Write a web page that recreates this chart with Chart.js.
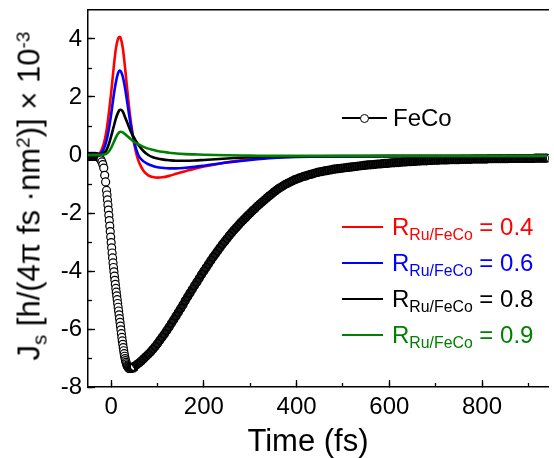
<!DOCTYPE html>
<html>
<head>
<meta charset="utf-8">
<script src="https://cdn.jsdelivr.net/npm/chart.js@4.4.1/dist/chart.umd.min.js"></script>
<style>
  body { margin: 0; background: #fff; }
  #wrap { position: relative; width: 554px; height: 458px; overflow: hidden;
          font-family: "Liberation Sans", Arial, sans-serif; color: #000; }
  #wrap canvas { position: absolute; left: 0; top: 0; }
  .txt { position: absolute; white-space: nowrap; }
  .sub { position: relative; top: 0.32em; font-size: 0.66em; }
  .sup { position: relative; top: -0.5em; font-size: 0.62em; }
  .key { position: absolute; height: 2.5px; width: 41px; left: 342px; }
  .rtxt { font-size: 24px; line-height: 24px; left: 392px; }
</style>
</head>
<body>
<div id="wrap">
  <canvas id="graf" width="554" height="458"></canvas>

  <div class="txt" style="left:31px; top:196px; font-size:31px; line-height:31px; transform: translate(-50%,-50%) rotate(-90deg);">J<span class="sub">s</span> [h/(4π fs ·nm<span class="sup">2</span>)] × 10<span class="sup">-3</span></div>
  <div class="txt" style="left:308px; top:425px; font-size:31px; line-height:31px; transform: translateX(-50%);">Time (fs)</div>

  <div class="key" style="top:117px; width:45px; height:2px; background:#000;"></div>
  <div style="position:absolute; left:360px; top:113.5px; width:7px; height:7px; border:1px solid #000; border-radius:50%; background:#fff;"></div>
  <div class="txt rtxt" style="top:106px; left:393px;">FeCo</div>

  <div class="key" style="top:225.5px; background:#ff0000;"></div>
  <div class="txt rtxt" style="top:215px; color:#ff0000;">R<span class="sub">Ru/FeCo</span> = 0.4</div>
  <div class="key" style="top:261.5px; background:#0000ff;"></div>
  <div class="txt rtxt" style="top:251px; color:#0000ff;">R<span class="sub">Ru/FeCo</span> = 0.6</div>
  <div class="key" style="top:297.5px; background:#000000;"></div>
  <div class="txt rtxt" style="top:287px; color:#000000;">R<span class="sub">Ru/FeCo</span> = 0.8</div>
  <div class="key" style="top:333.5px; background:#008000;"></div>
  <div class="txt rtxt" style="top:323px; color:#008000;">R<span class="sub">Ru/FeCo</span> = 0.9</div>
</div>

<script>
// marcas de los ejes
const ticksX = [0, 200, 400, 600, 800];
const ticksXMenor = [0, 100, 200, 300, 400, 500, 600, 700, 800, 900];
const ticksY = [-8, -6, -4, -2, 0, 2, 4];
const ticksYMenor = [-8, -7, -6, -5, -4, -3, -2, -1, 0, 1, 2, 3, 4];

// tiempos comunes de las curvas R (fs)
const tiempoR = [-50, -30, -25, -20, -15, -10, -5, 0, 5, 10, 15, 18, 20, 25, 30, 35, 40, 45, 50, 55,
  60, 70, 80, 90, 100, 110, 125, 140, 160, 180, 200, 250, 300, 350, 400, 500, 600, 700, 800, 940];

const r04 = [0, 0.01, 0.05, 0.2, 0.45, 0.85, 1.45, 2.15, 2.95, 3.65, 4.02, 4.08, 4.05, 3.7, 3.0, 2.2, 1.45, 0.85, 0.35, 0.0,
  -0.25, -0.55, -0.7, -0.76, -0.78, -0.77, -0.72, -0.65, -0.56, -0.47, -0.4, -0.25, -0.15, -0.08, -0.06, -0.05, -0.04, -0.04, -0.04, -0.04];

const r06 = [0, 0, 0.03, 0.1, 0.25, 0.5, 0.9, 1.4, 2.0, 2.5, 2.83, 2.91, 2.9, 2.7, 2.3, 1.78, 1.25, 0.8, 0.45, 0.15,
  -0.05, -0.22, -0.32, -0.38, -0.42, -0.44, -0.46, -0.46, -0.44, -0.41, -0.37, -0.26, -0.17, -0.1, -0.07, -0.05, -0.04, -0.04, -0.04, -0.04];

const r08 = [0, 0, 0.01, 0.03, 0.08, 0.18, 0.38, 0.65, 0.95, 1.25, 1.47, 1.55, 1.56, 1.5, 1.3, 1.1, 0.9, 0.72, 0.58, 0.44,
  0.32, 0.13, 0.0, -0.08, -0.12, -0.15, -0.18, -0.2, -0.2, -0.19, -0.17, -0.12, -0.08, -0.06, -0.05, -0.04, -0.04, -0.04, -0.04, -0.04];

const r09 = [0, 0, 0, 0.01, 0.02, 0.05, 0.12, 0.25, 0.42, 0.6, 0.74, 0.79, 0.8, 0.78, 0.72, 0.65, 0.58, 0.51, 0.45, 0.4,
  0.36, 0.28, 0.22, 0.18, 0.14, 0.11, 0.08, 0.05, 0.03, 0.02, 0.01, -0.01, -0.02, -0.03, -0.03, -0.03, -0.03, -0.03, -0.03, -0.03];

// FeCo (simbolos)
const tiempoFeCo = [
  -50, -45, -40, -35, -30, -27, -24, -22, -20, -18, -16, -14, -12, -10,
  -9, -8, -7, -6, -5, -4, -3, -2, -1, 0,
  1, 2, 3, 4, 5, 6, 7, 8, 9, 10,
  11, 12, 13, 14, 15, 16, 17, 18, 19, 20,
  21, 22, 23, 24, 25, 26, 27, 28, 29, 30,
  31, 32, 33, 34, 35, 36, 37, 38, 39, 40,
  41, 42, 43, 44, 45, 46, 47, 48, 49, 50,
  55, 60, 65, 70, 75, 80, 85, 90, 95, 100,
  105, 110, 115, 120, 125, 130, 135, 140, 145, 150,
  155, 160, 165, 170, 175, 180, 185, 190, 195, 200,
  205, 210, 215, 220, 225, 230, 235, 240, 245, 250,
  255, 260, 265, 270, 275, 280, 285, 290, 295, 300,
  305, 310, 315, 320, 325, 330, 335, 340, 345, 350,
  355, 360, 365, 370, 375, 380, 385, 390, 395, 400,
  405, 410, 415, 420, 425, 430, 435, 440, 445, 450,
  455, 460, 465, 470, 475, 480, 485, 490, 495, 500,
  505, 510, 515, 520, 525, 530, 535, 540, 545, 550,
  555, 560, 565, 570, 575, 580, 585, 590, 595, 600,
  605, 610, 615, 620, 625, 630, 635, 640, 645, 650,
  655, 660, 665, 670, 675, 680, 685, 690, 695, 700,
  705, 710, 715, 720, 725, 730, 735, 740, 745, 750,
  755, 760, 765, 770, 775, 780, 785, 790, 795, 800,
  805, 810, 815, 820, 825, 830, 835, 840, 845, 850,
  855, 860, 865, 870, 875, 880, 885, 890, 895, 900,
  905, 910, 915, 920, 925, 930, 935, 940
];

const jsFeCo = [
  -0.05, -0.05, -0.05, -0.05, -0.06, -0.08, -0.12, -0.17, -0.24, -0.33, -0.45, -0.7, -0.93, -1.22,
  -1.38, -1.55, -1.72, -1.9, -2.08, -2.26, -2.45, -2.64, -2.83, -3.02,
  -3.2, -3.38, -3.55, -3.72, -3.88, -4.03, -4.18, -4.32, -4.46, -4.6,
  -4.73, -4.86, -4.99, -5.12, -5.25, -5.38, -5.51, -5.64, -5.77, -5.9,
  -6.03, -6.16, -6.29, -6.41, -6.53, -6.64, -6.75, -6.85, -6.94, -7.02,
  -7.09, -7.15, -7.2, -7.25, -7.28, -7.31, -7.33, -7.35, -7.36, -7.36,
  -7.36, -7.36, -7.36, -7.35, -7.34, -7.33, -7.32, -7.31, -7.3, -7.29,
  -7.23, -7.17, -7.1, -7.03, -6.95, -6.87, -6.79, -6.7, -6.6, -6.5,
  -6.39, -6.28, -6.17, -6.05, -5.93, -5.8, -5.68, -5.55, -5.42, -5.29,
  -5.16, -5.02, -4.89, -4.76, -4.63, -4.5, -4.38, -4.25, -4.12, -4.0,
  -3.88, -3.76, -3.64, -3.52, -3.41, -3.3, -3.19, -3.08, -2.98, -2.88,
  -2.78, -2.68, -2.59, -2.5, -2.41, -2.32, -2.24, -2.16, -2.08, -2.0,
  -1.92, -1.85, -1.77, -1.7, -1.63, -1.56, -1.49, -1.42, -1.36, -1.29,
  -1.23, -1.17, -1.12, -1.07, -1.02, -0.98, -0.94, -0.9, -0.86, -0.83,
  -0.8, -0.77, -0.74, -0.72, -0.69, -0.67, -0.65, -0.62, -0.6, -0.58,
  -0.57, -0.55, -0.54, -0.52, -0.51, -0.49, -0.48, -0.47, -0.46, -0.45,
  -0.44, -0.43, -0.42, -0.41, -0.4, -0.39, -0.38, -0.37, -0.36, -0.35,
  -0.34, -0.34, -0.33, -0.32, -0.31, -0.31, -0.3, -0.29, -0.29, -0.28,
  -0.27, -0.27, -0.26, -0.26, -0.25, -0.24, -0.24, -0.23, -0.23, -0.22,
  -0.22, -0.21, -0.21, -0.2, -0.2, -0.2, -0.19, -0.19, -0.18, -0.18,
  -0.18, -0.17, -0.17, -0.17, -0.17, -0.16, -0.16, -0.16, -0.16, -0.16,
  -0.15, -0.15, -0.15, -0.15, -0.15, -0.14, -0.14, -0.14, -0.14, -0.14,
  -0.14, -0.14, -0.13, -0.13, -0.13, -0.13, -0.13, -0.13, -0.13, -0.13,
  -0.13, -0.12, -0.12, -0.12, -0.12, -0.12, -0.12, -0.12, -0.12, -0.12,
  -0.12, -0.12, -0.11, -0.11, -0.11, -0.11, -0.11, -0.11
];

const xMin = -50, xMax = 944;
const yMin = -8, yMax = 5;

const fuente = "'Liberation Sans', Arial, sans-serif";

function puntos(xs, ys) {
  return xs.map((x, i) => ({ x: x, y: ys[i] }));
}

function curva(label, ys, color) {
  return {
    label: label,
    data: puntos(tiempoR, ys),
    borderColor: color,
    backgroundColor: color,
    borderWidth: 2.6,
    pointRadius: 0,
    cubicInterpolationMode: "monotone",
    fill: false
  };
}

function sinRelleno(s) {
  s.paddingLeft = 0; s.paddingRight = 0; s.paddingTop = 0; s.paddingBottom = 0;
}

function fijarTicks(lista) {
  return s => { s.ticks = lista.map(v => ({ value: v })); };
}

// donde los simbolos se amontonan (plano inicial y cola) se ven como banda negra
function denso(x) {
  return x < -22 || x > 42;
}

// ejes secundarios solo para ticks menores hacia dentro
function ejeMenor(pos, min, max, lista, largo) {
  return {
    type: "linear",
    position: pos,
    weight: 0,
    min: min,
    max: max,
    afterBuildTicks: fijarTicks(lista),
    afterFit: s => { if (pos === "bottom") s.height = 0; else s.width = 0; sinRelleno(s); },
    ticks: { display: false },
    grid: { drawOnChartArea: false, drawTicks: true, tickLength: largo, tickColor: "#000", tickWidth: 1.3 },
    border: { display: false }
  };
}

new Chart(document.getElementById("graf"), {
  type: "line",
  data: {
    datasets: [
      curva("R 0.9", r09, "#008000"),
      curva("R 0.8", r08, "#000000"),
      curva("R 0.6", r06, "#0000ff"),
      curva("R 0.4", r04, "#ff0000"),
      {
        label: "FeCo",
        data: puntos(tiempoFeCo, jsFeCo),
        showLine: true,
        borderWidth: 8,
        borderColor: "#000",
        segment: {
          borderColor: ctx => (denso(ctx.p0.parsed.x) && denso(ctx.p1.parsed.x) ? "#1a1a1a" : "rgba(0,0,0,0)")
        },
        pointRadius: 4,
        pointBorderWidth: 1.2,
        pointBorderColor: "#000",
        pointBackgroundColor: ctx => (ctx.raw && denso(ctx.raw.x) ? "rgba(255,255,255,0)" : "#fff"),
        pointStyle: "circle"
      }
    ]
  },
  options: {
    responsive: false,
    animation: false,
    devicePixelRatio: 1,
    layout: { padding: { left: 0, right: 1, top: 0, bottom: 0 } },
    plugins: { legend: { display: false }, tooltip: { enabled: false } },
    scales: {
      x: {
        type: "linear",
        position: "bottom",
        weight: 1,
        min: xMin,
        max: xMax,
        afterBuildTicks: fijarTicks(ticksX),
        afterFit: s => { s.height = 71; sinRelleno(s); },
        ticks: {
          autoSkip: false, maxRotation: 0,
          padding: 13, color: "#000", font: { family: fuente, size: 24 }
        },
        grid: { drawOnChartArea: false, drawTicks: true, tickLength: -7, tickColor: "#000", tickWidth: 1.3 },
        border: { display: true, color: "#000", width: 1.5 }
      },
      xMinor: ejeMenor("bottom", xMin, xMax, ticksXMenor, -4),
      xTop: {
        type: "linear",
        position: "top",
        min: xMin,
        max: xMax,
        afterFit: s => { s.height = 10; sinRelleno(s); },
        ticks: { display: false },
        grid: { display: false },
        border: { display: true, color: "#000", width: 1.5 }
      },
      y: {
        type: "linear",
        position: "left",
        weight: 1,
        min: yMin,
        max: yMax,
        afterBuildTicks: fijarTicks(ticksY),
        afterFit: s => { s.width = 88; sinRelleno(s); },
        ticks: {
          autoSkip: false,
          padding: 13, color: "#000", font: { family: fuente, size: 24 }
        },
        grid: { drawOnChartArea: false, drawTicks: true, tickLength: -7, tickColor: "#000", tickWidth: 1.3 },
        border: { display: true, color: "#000", width: 1.5 }
      },
      yMinor: ejeMenor("left", yMin, yMax, ticksYMenor, -4)
    }
  }
});
</script>
</body>
</html>
